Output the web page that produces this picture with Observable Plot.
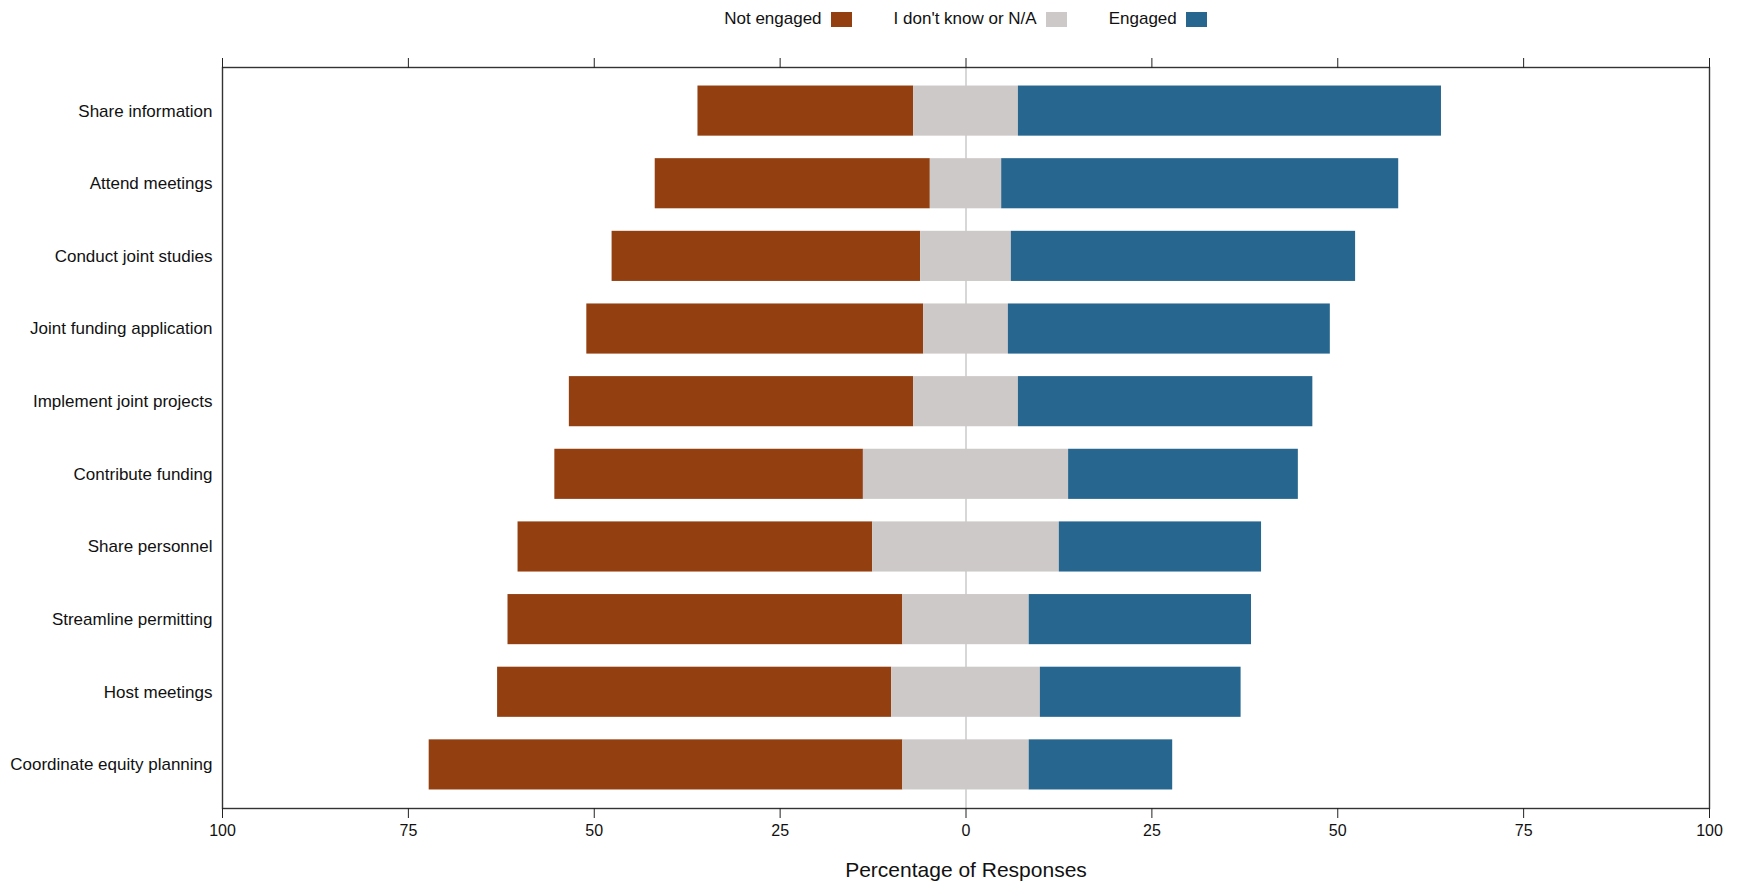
<!DOCTYPE html>
<html>
<head>
<meta charset="utf-8">
<script src="https://cdn.jsdelivr.net/npm/d3@7"></script>
<script src="https://cdn.jsdelivr.net/npm/@observablehq/plot@0.6"></script>
<style>
  html, body { margin: 0; padding: 0; background: #fff; }
  body { font-family: "Liberation Sans", Arial, Helvetica, sans-serif; width: 1743px; }
  #legend { height: 38px; box-sizing: border-box; padding-left: 222px; padding-right: 34px;
            display: flex; justify-content: center; align-items: center; font-size: 17px; color: #111; }
  .item { display: flex; align-items: center; margin: 0 21px; }
  .sw { display: inline-block; width: 21px; height: 15px; margin-left: 9px; }
  svg { display: block; }
</style>
</head>
<body>
<div id="legend"></div>
<div id="chart"></div>
<script>
const categories = [
  "Share information",
  "Attend meetings",
  "Conduct joint studies",
  "Joint funding application",
  "Implement joint projects",
  "Contribute funding",
  "Share personnel",
  "Streamline permitting",
  "Host meetings",
  "Coordinate equity planning"
];
const notEngaged = [29.0, 37.0, 41.5, 45.3, 46.3, 41.5, 47.7, 53.1, 53.0, 63.7];
const unknown    = [14.1, 9.6, 12.2, 11.4, 14.1, 27.6, 25.1, 17.0, 20.0, 17.0];
const engaged    = [56.9, 53.4, 46.3, 43.3, 39.6, 30.9, 27.2, 29.9, 27.0, 19.3];
const responses = ["Not engaged", "I don't know or N/A", "Engaged"];
const colors = ["#933f10", "#cdc9c8", "#27668f"];
const xTicks = [-100, -75, -50, -25, 0, 25, 50, 75, 100];

// Legend (HTML, above the SVG)
const legend = document.getElementById("legend");
responses.forEach((r, i) => {
  const item = document.createElement("div");
  item.className = "item";
  item.innerHTML = `<span>${r}</span><span class="sw" style="background:${colors[i]}"></span>`;
  legend.appendChild(item);
});

// Build diverging segments
const rows = [];
categories.forEach((c, i) => {
  const half = unknown[i] / 2;
  rows.push({category: c, response: responses[0], x1: -half - notEngaged[i], x2: -half});
  rows.push({category: c, response: responses[1], x1: -half, x2: half});
  rows.push({category: c, response: responses[2], x1: half, x2: half + engaged[i]});
});

const chart = Plot.plot({
  width: 1743,
  height: 845,
  marginTop: 29,
  marginBottom: 75,
  marginLeft: 222,
  marginRight: 34,
  style: {fontFamily: '"Liberation Sans", Arial, Helvetica, sans-serif', color: "#111", background: "#fff"},
  x: {domain: [-100, 100], ticks: xTicks},
  y: {type: "band", domain: categories, paddingInner: 0.31, paddingOuter: 0.255, round: false},
  color: {domain: responses, range: colors},
  marks: [
    Plot.ruleX([0], {stroke: "#bdbdbd", strokeWidth: 1.2}),
    Plot.barX(rows, {y: "category", x1: "x1", x2: "x2", fill: "response", inset: 0}),
    Plot.frame({stroke: "#333", strokeWidth: 1.4}),
    Plot.axisX({anchor: "bottom", ticks: xTicks, tickFormat: d => Math.abs(d), tickSize: 10, tickPadding: 6, fontSize: 16, label: null, stroke: "#222"}),
    Plot.axisX({anchor: "top", ticks: xTicks, tickFormat: () => "", tickSize: 10, label: null, stroke: "#222"}),
    Plot.axisY({anchor: "left", tickSize: 0, tickPadding: 10, fontSize: 17, label: null}),
    Plot.text(["Percentage of Responses"], {frameAnchor: "bottom", dy: 62, fontSize: 21, lineAnchor: "middle", fill: "#111"})
  ]
});
document.getElementById("chart").appendChild(chart);
</script>
</body>
</html>
